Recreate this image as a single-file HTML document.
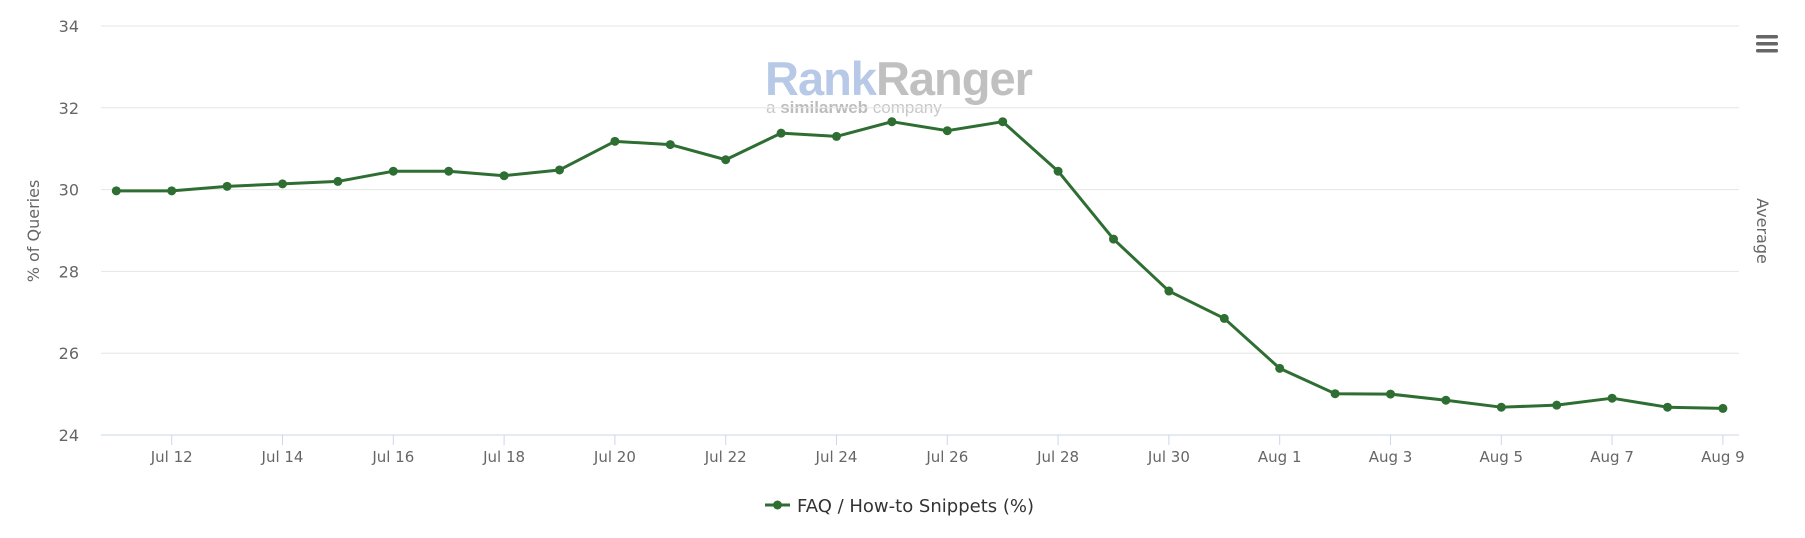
<!DOCTYPE html>
<html><head><meta charset="utf-8"><style>
body{margin:0;background:#fff;}
svg{display:block;font-family:"DejaVu Sans","Liberation Sans",sans-serif;}
</style></head><body>
<svg id="s" width="1805" height="538" viewBox="0 0 1805 538" xmlns="http://www.w3.org/2000/svg">
<text x="765" y="95" font-family="Liberation Sans, sans-serif" font-weight="bold" font-size="47" fill="#b7c9e6" letter-spacing="-1">Rank<tspan fill="#c0c0c0">Ranger</tspan></text>
<text x="766" y="113" font-family="Liberation Sans, sans-serif" font-size="17" fill="#c8c8c8">a <tspan font-weight="bold" fill="#bcbcbc">similarweb</tspan> company</text>
<g id="g"></g>
<text transform="translate(39,231) rotate(-90)" text-anchor="middle" font-size="16" fill="#666">% of Queries</text>
<text transform="translate(1757,231) rotate(90)" text-anchor="middle" font-size="16" fill="#666">Average</text>
<g fill="#666"><rect x="1756" y="35" width="22" height="3.5" rx="1.5"/><rect x="1756" y="42" width="22" height="3.5" rx="1.5"/><rect x="1756" y="49" width="22" height="3.5" rx="1.5"/></g>
<line x1="765" y1="505" x2="790" y2="505" stroke="#2f6e32" stroke-width="3"/>
<circle cx="777.5" cy="505" r="4.5" fill="#2f6e32"/>
<text x="797" y="512" font-size="18" fill="#333">FAQ / How-to Snippets (%)</text>
</svg>
<script>
var g=document.getElementById('g'),h='';
function Y(v){return 26+(34-v)*40.9;}
for(var v=24;v<=34;v+=2){var y=Y(v);h+='<line x1="101" x2="1739" y1="'+y+'" y2="'+y+'" stroke="'+(v==24?'#ccd6eb':'#e6e6e6')+'" stroke-width="1"/>';
h+='<text x="79" y="'+(y+6)+'" text-anchor="end" font-size="16" fill="#666">'+v+'</text>';}
var d=[29.97,29.97,30.08,30.14,30.2,30.45,30.45,30.34,30.48,31.18,31.1,30.73,31.38,31.3,31.66,31.44,31.66,30.45,28.79,27.52,26.85,25.63,25.01,25.0,24.85,24.68,24.73,24.9,24.68,24.65];
function X(i){return 116.3+i*55.4;}
var lab=['Jul 12','Jul 14','Jul 16','Jul 18','Jul 20','Jul 22','Jul 24','Jul 26','Jul 28','Jul 30','Aug 1','Aug 3','Aug 5','Aug 7','Aug 9'];
for(var k=0;k<15;k++){var x=X(1+2*k);h+='<line x1="'+x+'" x2="'+x+'" y1="435" y2="445" stroke="#ccd6eb"/>';
h+='<text x="'+x+'" y="462" text-anchor="middle" font-size="15" fill="#666">'+lab[k]+'</text>';}
var p='';for(var i=0;i<d.length;i++)p+=X(i)+','+Y(d[i])+' ';
h+='<polyline points="'+p+'" fill="none" stroke="#2f6e32" stroke-width="3" stroke-linejoin="round"/>';
for(i=0;i<d.length;i++)h+='<circle cx="'+X(i)+'" cy="'+Y(d[i])+'" r="4.5" fill="#2f6e32"/>';
g.innerHTML=h;
</script>
</body></html>
